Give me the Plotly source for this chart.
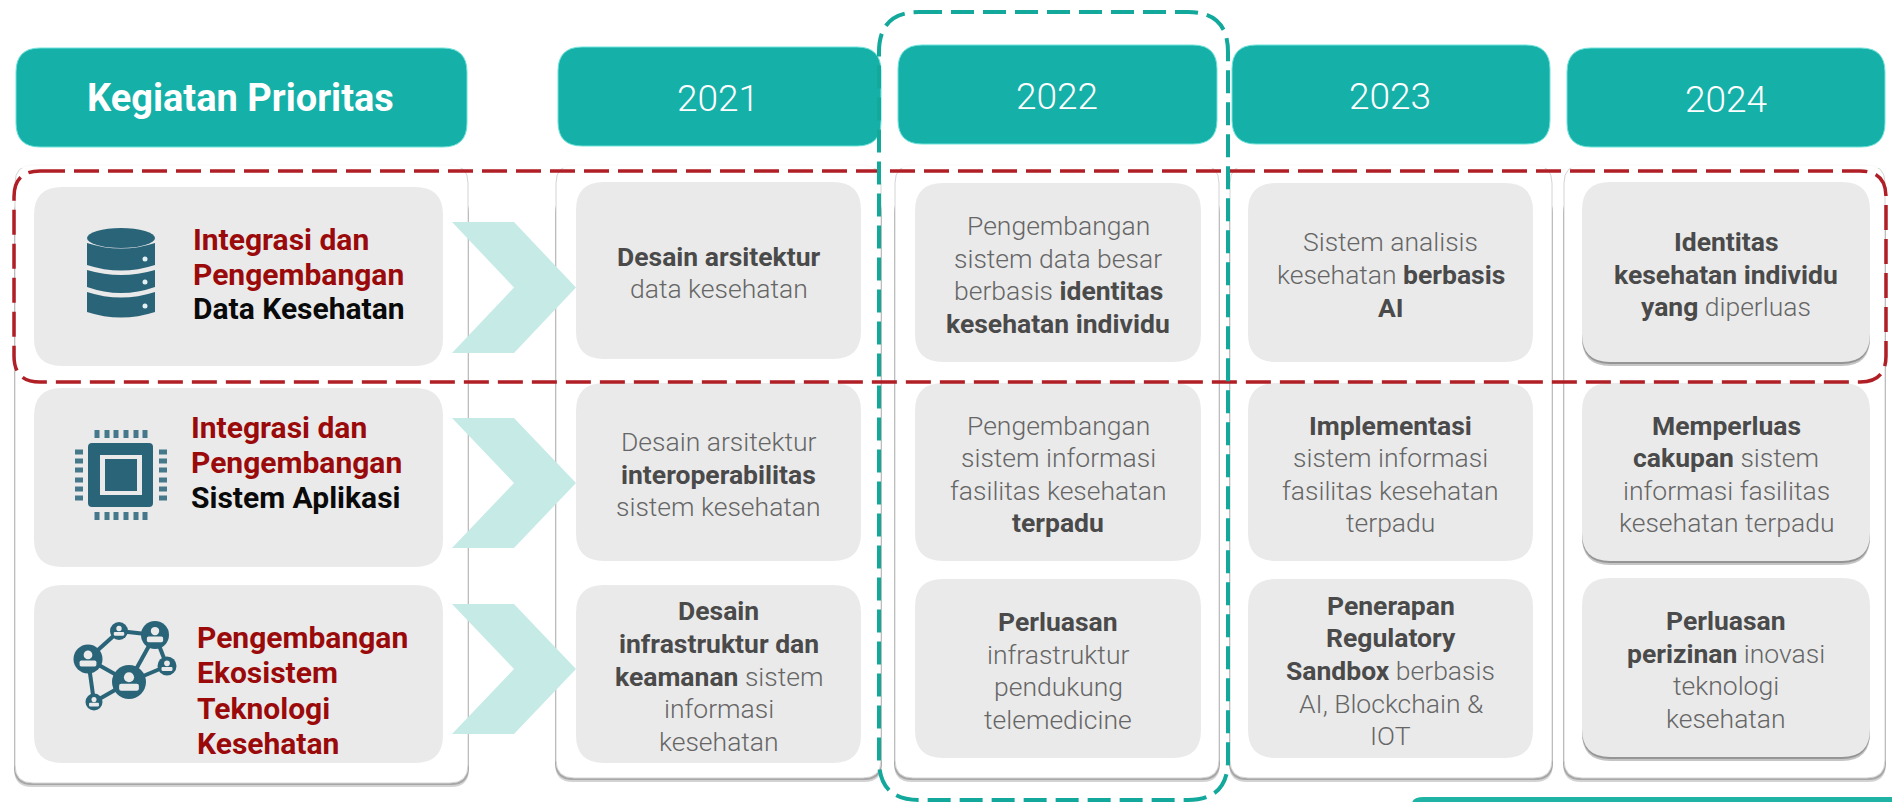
import re
import plotly.graph_objects as go

FONT = "Roboto"
TEAL = "#15B0A8"
ICON = "#2A6478"
GREY = "#EAEAEA"

# ---- content ----
header_title = "Kegiatan Prioritas"
years = ["2021", "2022", "2023", "2024"]
priority_labels = [
    [("Integrasi dan", "#9B0A0A"), ("Pengembangan", "#9B0A0A"), ("Data Kesehatan", "#0A0A0A")],
    [("Integrasi dan", "#9B0A0A"), ("Pengembangan", "#9B0A0A"), ("Sistem Aplikasi", "#0A0A0A")],
    [("Pengembangan", "#9B0A0A"), ("Ekosistem", "#9B0A0A"), ("Teknologi", "#9B0A0A"), ("Kesehatan", "#9B0A0A")],
]
col_2021 = [
    ["<b>Desain arsitektur</b>", "data kesehatan"],
    ["Desain arsitektur", "<b>interoperabilitas</b>", "sistem kesehatan"],
    ["<b>Desain</b>", "<b>infrastruktur dan</b>", "<b>keamanan</b> sistem", "informasi", "kesehatan"],
]
col_2022 = [
    ["Pengembangan", "sistem data besar", "berbasis <b>identitas</b>", "<b>kesehatan individu</b>"],
    ["Pengembangan", "sistem informasi", "fasilitas kesehatan", "<b>terpadu</b>"],
    ["<b>Perluasan</b>", "infrastruktur", "pendukung", "telemedicine"],
]
col_2023 = [
    ["Sistem analisis", "kesehatan <b>berbasis</b>", "<b>AI</b>"],
    ["<b>Implementasi</b>", "sistem informasi", "fasilitas kesehatan", "terpadu"],
    ["<b>Penerapan</b>", "<b>Regulatory</b>", "<b>Sandbox</b> berbasis", "AI, Blockchain &", "IOT"],
]
col_2024 = [
    ["<b>Identitas</b>", "<b>kesehatan individu</b>", "<b>yang</b> diperluas"],
    ["<b>Memperluas</b>", "<b>cakupan</b> sistem", "informasi fasilitas", "kesehatan terpadu"],
    ["<b>Perluasan</b>", "<b>perizinan</b> inovasi", "teknologi", "kesehatan"],
]
year_columns = [col_2021, col_2022, col_2023, col_2024]

# ---- layout geometry (pixels) ----
header_boxes = [(16, 467, 48, 147), (558, 881, 47, 146), (898, 1217, 45, 144), (1232, 1550, 45, 144), (1567, 1885, 48, 147)]
header_centers = [(240, 98), (718, 98), (1057, 96), (1390, 96), (1726, 99)]
panel_boxes = [(15, 468, 165, 783), (556, 881, 165, 778), (895, 1219, 165, 778), (1230, 1552, 165, 778), (1564, 1885, 165, 778)]
left_cards = [(34, 443, 187, 366), (34, 443, 388, 567), (34, 443, 585, 763)]
card_x = [(576, 861), (915, 1201), (1248, 1533), (1582, 1870)]
card_y = [
    [(182, 359), (383, 561), (585, 763)],
    [(183, 362), (383, 561), (579, 758)],
    [(183, 362), (383, 561), (579, 758)],
    [(182, 362), (383, 561), (578, 757)],
]
chevron_y = [(222, 353), (418, 548), (604, 734)]
label_pos = [(191, [239, 274, 308]), (189, [427, 462, 497]), (195, [637, 672, 708, 743])]
node_list = [(119, 631, 9), (155, 635, 14), (167, 666, 9.5), (88, 659, 14.5), (129, 682, 17), (94, 702, 8.5)]
edge_list = [(0, 1), (0, 3), (1, 4), (1, 2), (2, 4), (3, 4), (3, 5), (5, 4)]


def rr(x0, x1, y0, y1, r):
    return (f"M{x0+r},{y0} L{x1-r},{y0} Q{x1},{y0} {x1},{y0+r} L{x1},{y1-r} Q{x1},{y1} {x1-r},{y1} "
            f"L{x0+r},{y1} Q{x0},{y1} {x0},{y1-r} L{x0},{y0+r} Q{x0},{y0} {x0+r},{y0} Z")


shapes = []


def path(d, fill=None, line=None, width=0, dash=None):
    ln = dict(width=width)
    if line:
        ln["color"] = line
    if dash:
        ln["dash"] = dash
    s = dict(type="path", path=d, line=ln, xref="x", yref="y")
    if fill:
        s["fillcolor"] = fill
    shapes.append(s)


def box(x0, x1, y0, y1, fill):
    shapes.append(dict(type="rect", x0=x0, x1=x1, y0=y0, y1=y1, fillcolor=fill, line=dict(width=0)))


def circ(cx, cy, r, fill):
    shapes.append(dict(type="circle", x0=cx - r, x1=cx + r, y0=cy - r, y1=cy + r, fillcolor=fill, line=dict(width=0)))


# panels
for x0, x1, y0, y1 in panel_boxes:
    path(rr(x0 - 1, x1 + 1, y0 + 30, y1 + 4, 18), fill="rgba(110,110,110,0.30)")
    path(rr(x0 - 1, x1 + 1, y0 + 30, y1 + 2, 18), fill="rgba(110,110,110,0.45)")
    path(rr(x0, x1, y0, y1, 18), fill="#FFFFFF", line="#D4D4D4", width=1)
    # the top edge of each panel fades out
    box(x0 - 1, x1 + 1, y0 - 1, y0 + 3, "rgba(255,255,255,0.85)")

# chevrons
for y0, y1 in chevron_y:
    m = (y0 + y1) / 2
    path(f"M452,{y0} L514,{y0} L576,{m} L514,{y1} L452,{y1} L514,{m} Z", fill="#C6EBE7")

# cards
for x0, x1, y0, y1 in left_cards:
    path(rr(x0, x1, y0, y1, 28), fill=GREY)
for c, (x0, x1) in enumerate(card_x):
    for y0, y1 in card_y[c]:
        if c == 3:
            path(rr(x0, x1, y0 + 10, y1 + 4, 28), fill="rgba(90,90,90,0.35)")
            path(rr(x0, x1, y0 + 10, y1 + 2, 28), fill="rgba(90,90,90,0.45)")
        path(rr(x0, x1, y0, y1, 28), fill=GREY)

# headers
for x0, x1, y0, y1 in header_boxes:
    path(rr(x0, x1, y0, y1, 24), fill=TEAL, line="#6FE3DA", width=1)

# bottom-right strip
path("M1412,802 L1412,804 Q1412,797 1424,797 L1892,797 L1892,802 Z", fill="#1FB3A6")

# dashed highlights
path(rr(14, 1886, 171, 382, 26), line="#B01E26", width=3.5, dash="25px,9px")
path(rr(879, 1228, 12, 800, 40), line="#12A89B", width=4, dash="23px,9px")

# icon: database
xa, xb = 87, 155
xm = (xa + xb) / 2
shapes.append(dict(type="circle", x0=xa, x1=xb, y0=228, y1=248, fillcolor=ICON, line=dict(width=0)))
for e0, c0, e1, c1 in [(243, 254, 265, 276), (270, 280, 287, 299), (292, 303, 312, 323)]:
    path(f"M{xa},{e0} Q{xm},{c0} {xb},{e0} L{xb},{e1} Q{xm},{c1} {xa},{e1} Z", fill=ICON)
for cy in (259, 282, 306):
    circ(145, cy, 2.5, "#E4F0F2")

# icon: chip
path(rr(88, 153, 443, 507, 4), fill=ICON)
box(100, 142, 455, 495, GREY)
box(105, 137, 459, 491, ICON)
for cx in (97, 107, 116, 126, 136, 145):
    box(cx - 2.5, cx + 2.5, 430, 438, "#45788A")
    box(cx - 2.5, cx + 2.5, 512, 520, "#45788A")
for cy in (452, 461, 470, 480, 489, 498):
    box(75, 83, cy - 2.5, cy + 2.5, "#45788A")
    box(159, 167, cy - 2.5, cy + 2.5, "#45788A")

# icon: network
for a, b in edge_list:
    xa_, ya_, _ = node_list[a]
    xb_, yb_, _ = node_list[b]
    shapes.append(dict(type="line", x0=xa_, y0=ya_, x1=xb_, y1=yb_, line=dict(color=ICON, width=4)))
for cx, cy, r in node_list:
    circ(cx, cy, r, ICON)
    circ(cx, cy - 0.28 * r, 0.3 * r, GREY)
    path(rr(cx - 0.58 * r, cx + 0.58 * r, cy + 0.1 * r, cy + 0.52 * r, 0.12 * r), fill=GREY)

# ---- text ----
ann = []


def text(x, y, s, size, color, anchor="center", weight=None):
    f = dict(family=FONT, size=size, color=color)
    if weight:
        f["weight"] = weight
    ann.append(dict(x=x, y=y, text=s, showarrow=False, xanchor=anchor, yanchor="middle", font=f))


def body(s):
    s = re.sub(r"<b>", '<span style="color:#4A4A4A"><b>', s)
    return re.sub(r"</b>", "</b></span>", s)


text(header_centers[0][0], header_centers[0][1], f"<b>{header_title}</b>", 38, "#FFFFFF")
for (cx, cy), yr in zip(header_centers[1:], years):
    text(cx, cy, yr, 37, "#FFFFFF", weight=300)
for rows, (x, ys) in zip(priority_labels, label_pos):
    for (s, col), y in zip(rows, ys):
        text(x, y, f"<b>{s}</b>", 30, col, anchor="left")
for c, column in enumerate(year_columns):
    cx = sum(card_x[c]) / 2
    for r, lines in enumerate(column):
        cy = sum(card_y[c][r]) / 2 + 2
        n = len(lines)
        for i, ln in enumerate(lines):
            text(cx, cy + (i - (n - 1) / 2) * 32.6, body(ln), 26.5, "#666666", weight=300)

fig = go.Figure()
fig.update_layout(
    width=1892, height=802, margin=dict(l=0, r=0, t=0, b=0, pad=0),
    paper_bgcolor="#FFFFFF", plot_bgcolor="#FFFFFF",
    xaxis=dict(range=[0, 1892], visible=False, fixedrange=True),
    yaxis=dict(range=[802, 0], visible=False, fixedrange=True),
    shapes=shapes, annotations=ann, showlegend=False,
)
fig.write_html("out.html", config={"displayModeBar": False},
               post_script="document.body.style.margin='0';document.documentElement.style.overflow='hidden';")
